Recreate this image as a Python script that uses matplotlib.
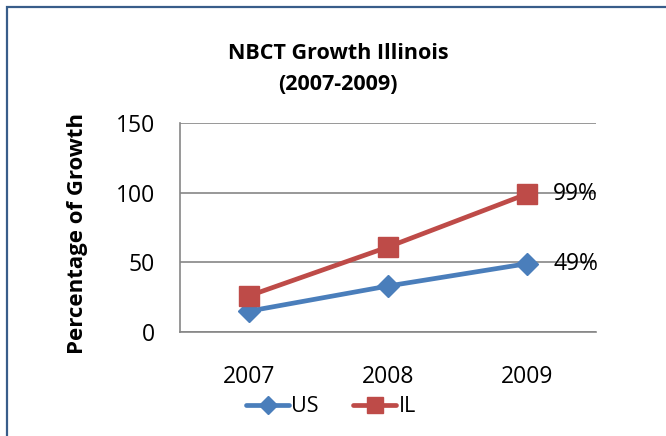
import matplotlib.pyplot as plt
from matplotlib.patches import Rectangle

years = ['2007', '2008', '2009']
us = [15, 33, 49]
il = [26, 61, 99]
end_labels = ['49%', '99%']

plt.rcParams['font.family'] = ['Open Sans', 'DejaVu Sans']

fig = plt.figure(figsize=(6.66, 4.36), dpi=100)
ax = fig.add_axes([0.270, 0.2385, 0.625, 0.4794])

x = range(len(years))
ax.plot(x, us, color='#4A7EBB', lw=3.4, marker='D', ms=11, label='US',
        solid_capstyle='round', zorder=3)
ax.plot(x, il, color='#BE4B48', lw=3.4, marker='s', ms=14, label='IL',
        solid_capstyle='round', zorder=3)

ax.text(2.19, us[-1], end_labels[0], va='center', ha='left', fontsize=16.5)
ax.text(2.19, il[-1], end_labels[1], va='center', ha='left', fontsize=16.5)

ax.set_xlim(-0.5, 2.5)
ax.set_ylim(0, 150)
ax.set_yticks([0, 50, 100, 150])
ax.set_xticks(list(x))
ax.set_xticklabels(years)
ax.tick_params(axis='both', length=0, labelsize=16.5, colors='black')
ax.tick_params(axis='y', pad=18)
ax.tick_params(axis='x', pad=24)
ax.yaxis.grid(True, color='#868686', lw=1.2)
ax.set_axisbelow(True)
for s in ['top', 'right']:
    ax.spines[s].set_visible(False)
for s in ['left', 'bottom']:
    ax.spines[s].set_color('#868686')
    ax.spines[s].set_linewidth(1.2)

fig.text(78 / 666, 1 - 234 / 436, 'Percentage of Growth', rotation=90,
         ha='center', va='center', fontsize=16, fontweight='bold')
fig.text(0.508, 0.842, 'NBCT Growth Illinois\n(2007-2009)', ha='center', va='center',
         fontsize=15.5, fontweight='bold', linespacing=1.6)

fig.legend(loc='center', bbox_to_anchor=(0.497, 0.067), ncol=2, frameon=False,
           fontsize=15.5, handlelength=2.0, handletextpad=0.1, columnspacing=1.6,
           markerscale=0.85)

fig.add_artist(Rectangle((7 / 666, -0.05), 1.1, 1 - 7 / 436 + 0.05,
                         transform=fig.transFigure, fill=False,
                         edgecolor='#385D8A', lw=1.6))

fig.savefig('out.png', dpi=100)
